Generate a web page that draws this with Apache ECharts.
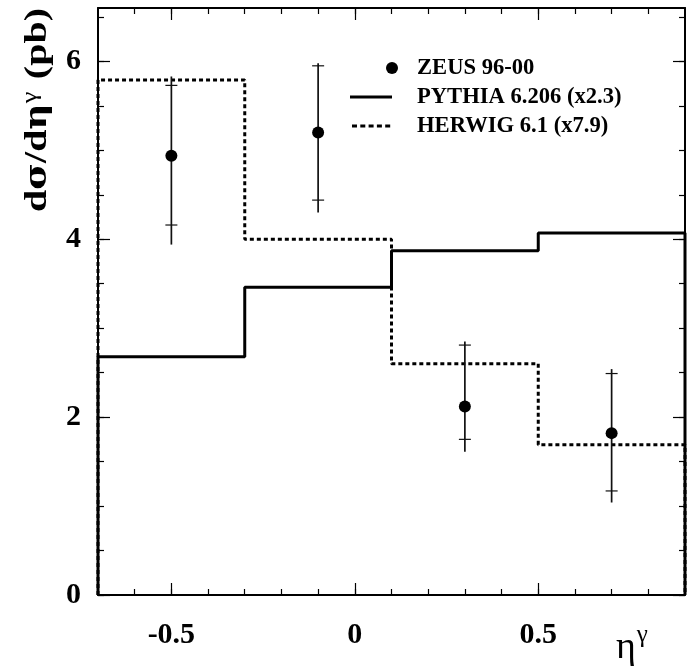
<!DOCTYPE html>
<html><head><meta charset="utf-8">
<script src="https://cdn.jsdelivr.net/npm/echarts@6/dist/echarts.min.js"></script>
<style>html,body{margin:0;padding:0;background:#fff}#c{width:687px;height:670px}</style>
</head><body><div id="c"></div>
<script>
// ---- data ----
const binEdges = [-0.7, -0.3, 0.1, 0.5, 0.9];
const pythia = [2.68, 3.46, 3.87, 4.07];      // PYTHIA 6.206 (x2.3)
const herwig = [5.79, 4.00, 2.60, 1.69];      // HERWIG 6.1 (x7.9)
const zeusX = [-0.5, -0.1, 0.3, 0.7];
const zeusY = [4.94, 5.20, 2.12, 1.82];
const statLow = [4.16, 4.44, 1.75, 1.17];
const statHigh = [5.73, 5.95, 2.81, 2.49];
const totLow = [3.94, 4.30, 1.61, 1.04];
const totHigh = [5.83, 5.98, 2.85, 2.54];
const xMajorTicks = [-0.5, 0, 0.5];
const xMinorTicks = [-0.6, -0.5, -0.4, -0.3, -0.2, -0.1, 0, 0.1, 0.2, 0.3, 0.4, 0.5, 0.6, 0.7, 0.8];
const yMajorTicks = [0, 2, 4, 6];
const yMinorTicks = [0, 0.5, 1, 1.5, 2, 2.5, 3, 3.5, 4, 4.5, 5, 5.5, 6, 6.5];
const legendLabels = ['ZEUS 96-00', 'PYTHIA 6.206 (x2.3)', 'HERWIG 6.1 (x7.9)'];
const xRange = [-0.7, 0.9];
const yRange = [0, 6.6];

// ---- build ----
function histSteps(vals) {
  const d = [[binEdges[0], 0]];
  vals.forEach((v, i) => d.push([binEdges[i], v]));
  d.push([binEdges[binEdges.length - 1], vals[vals.length - 1]]);
  d.push([binEdges[binEdges.length - 1], 0]);
  return d;
}
const FONT = 'Liberation Serif';
const labelStyle = { fontFamily: FONT, fontWeight: 'bold', fontSize: 30, color: '#000' };

function xAx(pos, ticks, len, showLine, labels) {
  return {
    type: 'value', position: pos, min: xRange[0], max: xRange[1],
    axisLine: { show: showLine, onZero: false, lineStyle: { color: '#000', width: 2 } },
    axisTick: { show: true, inside: true, length: len, customValues: ticks, lineStyle: { color: '#000', width: 1.2 } },
    axisLabel: labels ? Object.assign({ show: true, margin: 25, customValues: xMajorTicks,
      formatter: v => (Math.abs(v) < 1e-9 ? '0' : String(v)) }, labelStyle) : { show: false },
    splitLine: { show: false }
  };
}
function yAx(pos, ticks, len, showLine, labels) {
  return {
    type: 'value', position: pos, min: yRange[0], max: yRange[1],
    axisLine: { show: showLine, onZero: false, lineStyle: { color: '#000', width: 2 } },
    axisTick: { show: true, inside: true, length: len, customValues: ticks, lineStyle: { color: '#000', width: 1.2 } },
    axisLabel: labels ? Object.assign({ show: true, margin: 17, customValues: yMajorTicks,
      formatter: v => String(v) }, labelStyle) : { show: false },
    splitLine: { show: false }
  };
}

const errData = zeusX.map((x, i) => [x, totLow[i], totHigh[i], statLow[i], statHigh[i]]);

const chart = echarts.init(document.getElementById('c'), null, { renderer: 'canvas' });
chart.setOption({
  animation: false,
  backgroundColor: '#fff',
  grid: { left: 98, right: 2, top: 8, bottom: 75, containLabel: false },
  xAxis: [
    xAx('bottom', xMinorTicks, 6, true, true),
    xAx('bottom', xMajorTicks, 12, false, false),
    xAx('top', xMinorTicks, 6, true, false),
    xAx('top', xMajorTicks, 12, false, false)
  ],
  yAxis: [
    yAx('left', yMinorTicks, 6, true, true),
    yAx('left', yMajorTicks, 12, false, false),
    yAx('right', yMinorTicks, 6, true, false),
    yAx('right', yMajorTicks, 12, false, false)
  ],
  series: [
    { type: 'line', name: legendLabels[1], data: histSteps(pythia), step: 'end', showSymbol: false,
      lineStyle: { color: '#000', width: 3 }, z: 3 },
    { type: 'line', name: legendLabels[2], data: histSteps(herwig), step: 'end', showSymbol: false,
      lineStyle: { color: '#000', width: 3, type: [4, 3] }, z: 3 },
    { type: 'custom', name: 'err', data: errData, z: 4,
      renderItem: function (params, api) {
        const x = api.value(0);
        const pLo = api.coord([x, api.value(1)]);
        const pHi = api.coord([x, api.value(2)]);
        const sLo = api.coord([x, api.value(3)]);
        const sHi = api.coord([x, api.value(4)]);
        const hw = 6;
        return { type: 'group', children: [
          { type: 'line', shape: { x1: pLo[0], y1: pLo[1], x2: pHi[0], y2: pHi[1] }, style: { stroke: '#111', lineWidth: 1.7 } },
          { type: 'line', shape: { x1: sLo[0] - hw, y1: sLo[1], x2: sLo[0] + hw, y2: sLo[1] }, style: { stroke: '#111', lineWidth: 1.2 } },
          { type: 'line', shape: { x1: sHi[0] - hw, y1: sHi[1], x2: sHi[0] + hw, y2: sHi[1] }, style: { stroke: '#111', lineWidth: 1.2 } }
        ] };
      } },
    { type: 'scatter', name: legendLabels[0], data: zeusX.map((x, i) => [x, zeusY[i]]),
      symbol: 'circle', symbolSize: 12, itemStyle: { color: '#000', opacity: 1 }, z: 5 }
  ],
  graphic: [
    { type: 'circle', shape: { cx: 392, cy: 68, r: 6 }, style: { fill: '#000' } },
    { type: 'line', shape: { x1: 350, y1: 97, x2: 392, y2: 97 }, style: { stroke: '#000', lineWidth: 3 } },
    { type: 'line', shape: { x1: 352, y1: 126, x2: 392, y2: 126 }, style: { stroke: '#000', lineWidth: 3, lineDash: [5, 3.3] } },
    { type: 'text', x: 417, y: 68, style: { text: legendLabels[0], font: 'bold 22.6px "Liberation Serif"', fill: '#000', verticalAlign: 'middle' } },
    { type: 'text', x: 417, y: 97, style: { text: legendLabels[1], font: 'bold 22.6px "Liberation Serif"', fill: '#000', verticalAlign: 'middle' } },
    { type: 'text', x: 417, y: 126, style: { text: legendLabels[2], font: 'bold 22.6px "Liberation Serif"', fill: '#000', verticalAlign: 'middle' } },
    { type: 'text', x: 38, y: 110, rotation: Math.PI / 2, scaleX: 1.25, scaleY: 1,
      style: { text: '{a|d}{g|σ}{a|/d}{g|η}{s|γ}{a| (pb)}', align: 'center', verticalAlign: 'middle',
        rich: { a: { fontFamily: FONT, fontWeight: 'bold', fontSize: 32, fill: '#000' },
                g: { fontFamily: 'DejaVu Serif', fontWeight: 'bold', fontSize: 29, fill: '#000' },
                s: { fontFamily: FONT, fontWeight: 'normal', fontSize: 21, fill: '#000', verticalAlign: 'top', padding: [0, 2, 15, 0] } } } },
    { type: 'text', x: 616, y: 648,
      style: { text: '{a|η}{s|γ}', verticalAlign: 'middle',
        rich: { a: { fontFamily: FONT, fontSize: 38, fill: '#000' },
                s: { fontFamily: FONT, fontSize: 25, fill: '#000', padding: [0, 0, 26, 1] } } } }
  ]
});
</script></body></html>
